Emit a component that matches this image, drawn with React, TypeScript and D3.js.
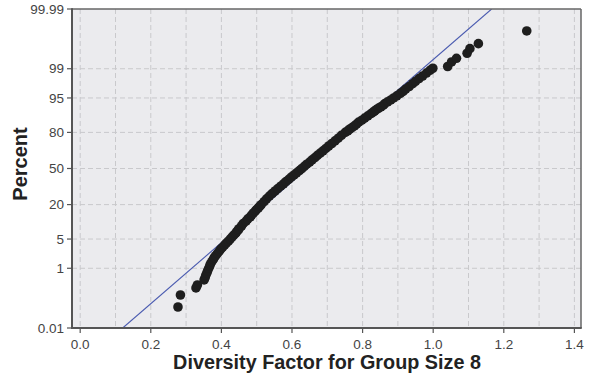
import React from 'react';
import * as d3 from 'd3';

// ---- data ----
const diversity = [
  0.277, 0.284, 0.328, 0.332, 0.351, 0.354, 0.356, 0.359, 0.361, 0.364,
  0.367, 0.369, 0.373, 0.377, 0.380, 0.384, 0.389, 0.394, 0.398, 0.403,
  0.409, 0.414, 0.420, 0.425, 0.430, 0.435, 0.440, 0.443, 0.447, 0.450,
  0.457, 0.462, 0.470, 0.475, 0.482, 0.486, 0.491, 0.496, 0.500, 0.505,
  0.509, 0.513, 0.521, 0.528, 0.536, 0.544, 0.552, 0.560, 0.568, 0.576,
  0.583, 0.591, 0.598, 0.606, 0.613, 0.621, 0.628, 0.635, 0.642, 0.650,
  0.657, 0.665, 0.672, 0.680, 0.688, 0.696, 0.704, 0.713, 0.722, 0.731,
  0.740, 0.751, 0.758, 0.763, 0.770, 0.777, 0.783, 0.789, 0.798, 0.806,
  0.815, 0.824, 0.829, 0.834, 0.839, 0.845, 0.852, 0.859, 0.863, 0.871,
  0.880, 0.888, 0.897, 0.907, 0.915, 0.922, 0.932, 0.942, 0.950, 0.960,
  0.970, 0.981, 0.991, 0.999, 1.041, 1.052, 1.066, 1.096, 1.104, 1.128,
  1.265,
];
const percent = [
  0.062, 0.159, 0.267, 0.33, 0.47, 0.55, 0.65, 0.75, 0.85, 1.0,
  1.15, 1.3, 1.5, 1.7, 1.9, 2.1, 2.4, 2.7, 3.0, 3.3,
  3.7, 4.1, 4.5, 5.0, 5.5, 6, 6.5, 7, 7.5, 8,
  9, 10, 11, 12, 13, 14, 15, 16, 17, 18,
  19, 20, 22, 24, 26, 28, 30, 32, 34, 36,
  38, 40, 42, 44, 46, 48, 50, 52, 54, 56,
  58, 60, 62, 64, 66, 68, 70, 72, 74, 76,
  78, 80, 81, 82, 83, 84, 85, 86, 87, 88,
  89, 90, 90.5, 91, 91.5, 92, 92.5, 93, 93.5, 94,
  94.5, 95, 95.5, 96, 96.4, 96.8, 97.2, 97.6, 97.9, 98.2,
  98.45, 98.7, 98.9, 99.03, 99.13, 99.35, 99.49, 99.64, 99.74, 99.82,
  99.933,
];
const fitMean = 0.643;
const fitSd = 0.1405;
const xTicks = [0, 0.2, 0.4, 0.6, 0.8, 1.0, 1.2, 1.4];
const xGridValues = [0, 0.1, 0.2, 0.3, 0.4, 0.5, 0.6, 0.7, 0.8, 0.9, 1.0, 1.1, 1.2, 1.3, 1.4];
const yTicks = [0.01, 1, 5, 20, 50, 80, 95, 99, 99.99];
const yTickLabels = ['0.01', '1', '5', '20', '50', '80', '95', '99', '99.99'];
const yGridValues = [1, 5, 20, 50, 80, 95, 99];
const xTitle = 'Diversity Factor for Group Size 8';
const yTitle = 'Percent';

// inverse standard normal CDF (Acklam)
function probit(p: number): number {
  const a = [-3.969683028665376e1, 2.209460984245205e2, -2.759285104469687e2, 1.38357751867269e2, -3.066479806614716e1, 2.506628277459239];
  const b = [-5.447609879822406e1, 1.615858368580409e2, -1.556989798598866e2, 6.680131188771972e1, -1.328068155288572e1];
  const c = [-7.784894002430293e-3, -3.223964580411365e-1, -2.400758277161838, -2.549732539343734, 4.374664141464968, 2.938163982698783];
  const d = [7.784695709041462e-3, 3.224671290700398e-1, 2.445134137142996, 3.754408661907416];
  const plow = 0.02425;
  if (p < plow) {
    const q = Math.sqrt(-2 * Math.log(p));
    return (((((c[0] * q + c[1]) * q + c[2]) * q + c[3]) * q + c[4]) * q + c[5]) / ((((d[0] * q + d[1]) * q + d[2]) * q + d[3]) * q + 1);
  }
  if (p > 1 - plow) {
    const q = Math.sqrt(-2 * Math.log(1 - p));
    return -(((((c[0] * q + c[1]) * q + c[2]) * q + c[3]) * q + c[4]) * q + c[5]) / ((((d[0] * q + d[1]) * q + d[2]) * q + d[3]) * q + 1);
  }
  const q = p - 0.5;
  const r = q * q;
  return ((((((a[0] * r + a[1]) * r + a[2]) * r + a[3]) * r + a[4]) * r + a[5]) * q) / (((((b[0] * r + b[1]) * r + b[2]) * r + b[3]) * r + b[4]) * r + 1);
}

const W = 592;
const H = 380;
const L = 72, R = 581, T = 9, B = 328;

export default function App() {
  const x = d3.scaleLinear().domain([-0.0232, 1.4187]).range([L, R]);
  const zMax = -probit(0.0001);
  const zScale = d3.scaleLinear().domain([-zMax, zMax]).range([B, T]);
  const y = (pct: number) => zScale(probit(pct / 100));

  const points = diversity.map((v, i) => ({ v, p: percent[i] }));
  const fitPts = [0.01, 99.99].map((p) => ({ p, v: fitMean + fitSd * probit(p / 100) }));
  const line = d3.line<{ p: number; v: number }>().x((d) => x(d.v)).y((d) => y(d.p));

  const font = 'Liberation Sans, Arial, Helvetica, sans-serif';
  const gridColor = '#c9c9cc';
  const axisColor = '#555';
  const labelColor = '#444';

  return (
    <svg width={W} height={H} style={{ position: 'absolute', left: 0, top: 0, background: '#fff' }} fontFamily={font}>
      <defs>
        <clipPath id="plotClip">
          <rect x={L} y={T} width={R - L} height={B - T} />
        </clipPath>
      </defs>
      <rect x={L} y={T} width={R - L} height={B - T} fill="#ebebee" />
      {xGridValues.map((g) => (
        <line key={'xg' + g} x1={x(g)} x2={x(g)} y1={T} y2={B} stroke={gridColor} strokeWidth={1} strokeDasharray="5,3" />
      ))}
      {yGridValues.map((g) => (
        <line key={'yg' + g} x1={L} x2={R} y1={y(g)} y2={y(g)} stroke={gridColor} strokeWidth={1} strokeDasharray="5,3" />
      ))}
      <path d={line(fitPts) || ''} fill="none" stroke="#4a5bb0" strokeWidth={1.1} clipPath="url(#plotClip)" />
      {points.map((d, i) => (
        <circle key={i} cx={x(d.v)} cy={y(d.p)} r={4.8} fill="#1e1e1e" />
      ))}
      {/* frame */}
      <line x1={L} x2={R} y1={T} y2={T} stroke="#666" strokeWidth={1.5} />
      <line x1={R} x2={R} y1={T} y2={B} stroke="#666" strokeWidth={1.5} />
      <line x1={L} x2={L} y1={T - 0.75} y2={B + 1} stroke={axisColor} strokeWidth={2} />
      <line x1={L - 1} x2={R + 0.75} y1={B} y2={B} stroke={axisColor} strokeWidth={2} />
      {/* x ticks */}
      {xTicks.map((t) => (
        <g key={'xt' + t}>
          <line x1={x(t)} x2={x(t)} y1={B} y2={B + 5} stroke={axisColor} strokeWidth={1.2} />
          <text x={x(t)} y={349} textAnchor="middle" fontSize={13.5} fill={labelColor}>
            {t.toFixed(1)}
          </text>
        </g>
      ))}
      {/* y ticks */}
      {yTicks.map((t, i) => (
        <g key={'yt' + t}>
          <line x1={L - 5} x2={L} y1={y(t)} y2={y(t)} stroke={axisColor} strokeWidth={1.2} />
          <text x={L - 8} y={y(t) + 4.7} textAnchor="end" fontSize={13.5} fill={labelColor}>
            {yTickLabels[i]}
          </text>
        </g>
      ))}
      <text x={327} y={369} textAnchor="middle" fontSize={19.8} fontWeight="bold" fill="#222">
        {xTitle}
      </text>
      <text transform={`translate(27,164) rotate(-90)`} textAnchor="middle" fontSize={20} fontWeight="bold" fill="#222">
        {yTitle}
      </text>
    </svg>
  );
}
